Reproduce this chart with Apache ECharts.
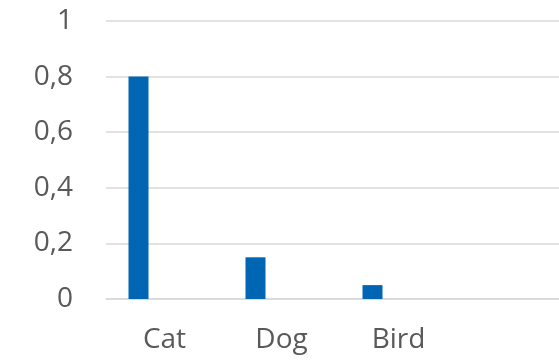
<!DOCTYPE html>
<html>
<head>
<meta charset="utf-8">
<script src="https://cdn.jsdelivr.net/npm/echarts@6/dist/echarts.min.js"></script>
<style>
  html, body { margin: 0; padding: 0; background: #fff; overflow: hidden; }
  /* the plot continues a little past the right edge of the window */
  #chart { width: 574px; height: 360px; }
</style>
</head>
<body>
<div id="chart"></div>
<script>
// Category labels and values
const categories = ['Cat', 'Dog', 'Bird'];
const values = [0.8, 0.15, 0.05];
const emptySeries = [null, null, null];
const yTicks = { min: 0, max: 1, interval: 0.2 };

const chart = echarts.init(document.getElementById('chart'), null, { renderer: 'canvas' });

const fontFamily = '"Open Sans", "Noto Sans", sans-serif';

chart.setOption({
  animation: false,
  grid: { left: 106, right: 0, top: 21, bottom: 61, containLabel: false },
  xAxis: {
    type: 'category',
    data: categories,
    max: 3,
    axisLine: { show: true, lineStyle: { color: '#d9d9d9', width: 1.5 } },
    axisTick: { show: false },
    axisLabel: {
      color: '#595959',
      fontSize: 28,
      fontFamily: fontFamily,
      margin: 27
    }
  },
  yAxis: {
    type: 'value',
    min: yTicks.min,
    max: yTicks.max,
    interval: yTicks.interval,
    axisLine: { show: false },
    axisTick: { show: false },
    splitLine: { lineStyle: { color: '#d9d9d9', width: 1.5 } },
    axisLabel: {
      color: '#595959',
      fontSize: 28,
      fontFamily: fontFamily,
      margin: 33,
      formatter: v => String(Math.round(v * 10) / 10).replace('.', ',')
    }
  },
  series: [
    {
      type: 'bar',
      data: values,
      barWidth: 20,
      barGap: '160%',
      itemStyle: { color: '#0066b3' }
    },
    {
      type: 'bar',
      data: emptySeries,
      barWidth: 20,
      itemStyle: { color: '#0066b3' }
    }
  ]
});
</script>
</body>
</html>
